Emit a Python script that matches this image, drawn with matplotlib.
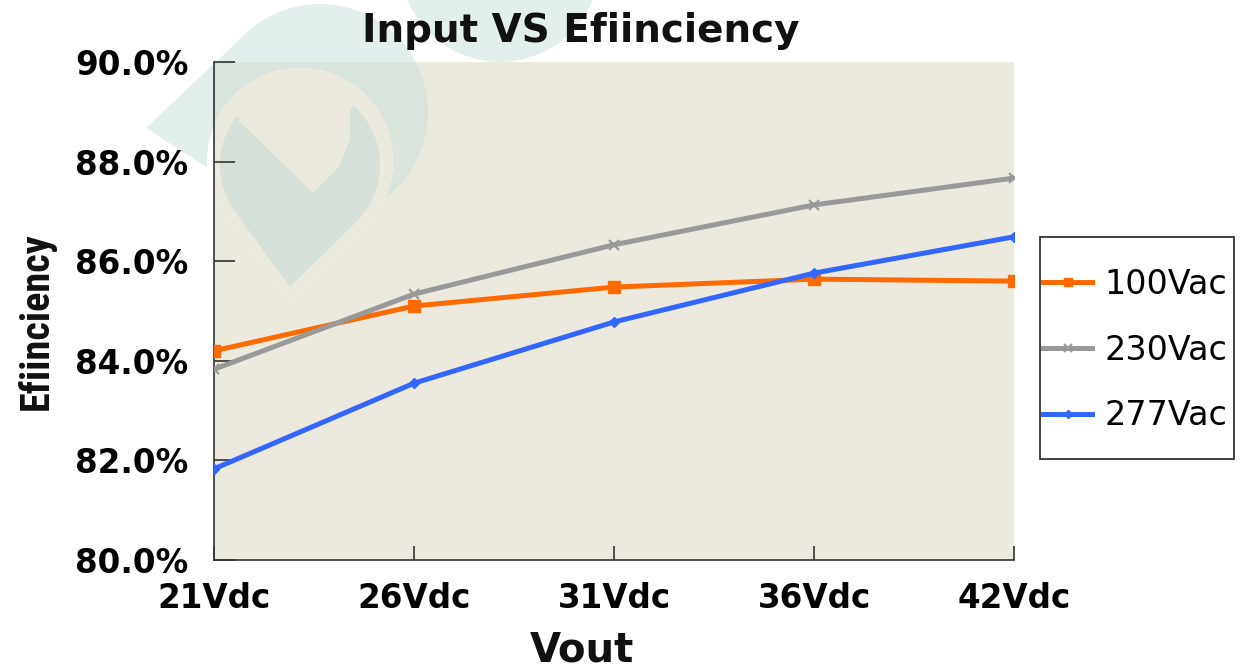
import numpy as np
import matplotlib.pyplot as plt
from matplotlib.patches import Rectangle, Polygon
from matplotlib.transforms import IdentityTransform

# data
vout = ["21Vdc", "26Vdc", "31Vdc", "36Vdc", "42Vdc"]
eff_100 = [84.2, 85.1, 85.48, 85.64, 85.6]
eff_230 = [83.83, 85.34, 86.33, 87.13, 87.67]
eff_277 = [81.83, 83.55, 84.78, 85.76, 86.49]
yticks = [80, 82, 84, 86, 88, 90]

W, H = 1241, 669
BG = "#ECE9DF"
fig = plt.figure(figsize=(W / 100, H / 100), dpi=100)
ax = fig.add_axes([214 / W, 1 - 560 / H, 800 / W, 498 / H])
ax.set_facecolor(BG)
ident = IdentityTransform()


def pin(cx, cy, r, tx, ty, n=80):
    # circle plus a pointed tip, in image pixels (y down) -> display coords
    d = np.hypot(tx - cx, ty - cy)
    a0 = np.arctan2(ty - cy, tx - cx)
    da = np.arccos(r / d)
    t = np.linspace(a0 + da, a0 + 2 * np.pi - da, n)
    pts = [(cx + r * np.cos(a), cy + r * np.sin(a)) for a in t] + [(tx, ty)]
    return [(x, H - y) for x, y in pts]


def add_shape(pts, color, z, alpha=1.0, clip=False):
    p = Polygon(pts, closed=True, transform=ident, facecolor=color, edgecolor="none",
                alpha=alpha, zorder=z, clip_on=False)
    ax.add_artist(p)
    if clip:
        p.set_clip_on(True)
        p.set_clip_path(ax.patch)
    return p


# faint logo watermark
add_shape(pin(320, 112, 108, 146, 128), "#C7E1DD", 0.5, alpha=0.5)
t = np.linspace(0, 2 * np.pi, 100)
add_shape([(500 + 100 * np.cos(a), H - (-38 + 100 * np.sin(a))) for a in t], "#C7E1DD", 0.5, alpha=0.5)
add_shape(pin(300, 161, 93, 290, 300), "white", 0.6)
add_shape(pin(300, 161, 93, 290, 300), BG, 0.61, clip=True)
add_shape(pin(300, 165, 80, 290, 287), "#D5E1D8", 0.7)
arc = np.linspace(np.radians(-50), np.radians(-140), 30)
cut = [(240, 122), (313, 193), (338, 168), (350, 140), (350, 112), (356, 100)]
cut += [(300 + 90 * np.cos(a), 161 + 90 * np.sin(a)) for a in arc]
add_shape([(x, H - y) for x, y in cut], BG, 0.8, clip=True)

x = range(len(vout))
ax.plot(x, eff_100, color="#FF6A00", lw=3.6, marker="s", ms=8, label="100Vac", zorder=3)
ax.plot(x, eff_230, color="#999999", lw=3.6, marker="x", ms=7, mew=1.5, label="230Vac", zorder=3)
ax.plot(x, eff_277, color="#3366FF", lw=3.6, marker="D", ms=5, label="277Vac", zorder=3)

ax.set_xlim(0, len(vout) - 1)
ax.set_ylim(80, 90)
ax.set_xticks(list(x))
ax.set_xticklabels(vout)
ax.set_yticks(yticks)
ax.set_yticklabels([f"{v:.1f}%" for v in yticks])
for lab in ax.get_xticklabels() + ax.get_yticklabels():
    lab.set_fontweight("bold")
    lab.set_fontsize(23.5)
ax.tick_params(axis="y", direction="in", length=15, width=1.2, color="#333333", pad=18.5)
ax.tick_params(axis="x", direction="in", length=10, width=1.2, color="#333333", pad=16)
for s in ["top", "right"]:
    ax.spines[s].set_visible(False)
for s in ["left", "bottom"]:
    ax.spines[s].set_color("#333333")
    ax.spines[s].set_linewidth(1.2)

fig.text(581 / W, 1 - 42 / H, "Input VS Efiinciency", ha="center", va="baseline",
         fontsize=28, fontweight="bold", color="#111111")
fig.text(582 / W, 1 - 662 / H, "Vout", ha="center", va="baseline",
         fontsize=29, fontweight="bold", color="#111111")
fig.text(36 / W, 1 - 321 / H, "Efiinciency", ha="center", va="center", rotation=90,
         fontsize=29, fontweight="bold", color="#111111",
         family=["Roboto Condensed", "Liberation Sans"])

# legend frame and entries
fig.patches.append(Rectangle((1040, H - 459), 194, 222, transform=ident, fill=False,
                             edgecolor="#222222", lw=1.2))
fig.legend(loc="center left", bbox_to_anchor=(1040 / W, 1 - 350 / H), frameon=False,
           fontsize=24, handlelength=1.47, handletextpad=0.36, labelspacing=0.98,
           borderpad=0, borderaxespad=0.1, markerscale=0.8)

fig.savefig("out.png", dpi=100)
